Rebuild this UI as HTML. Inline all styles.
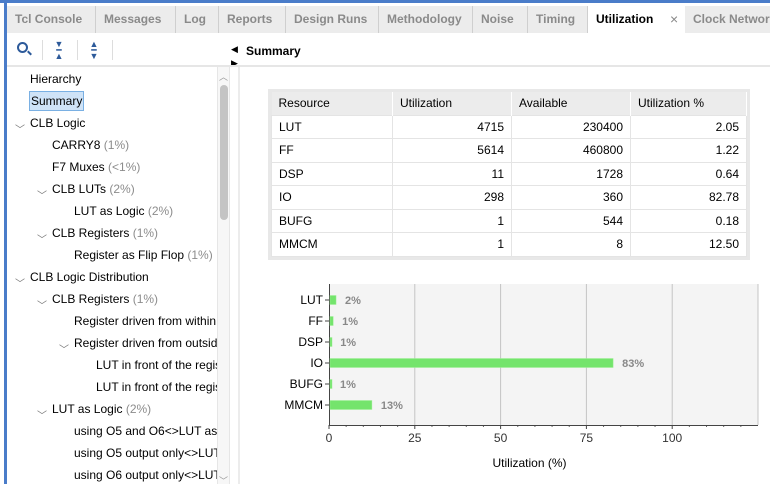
<!DOCTYPE html>
<html><head><meta charset="utf-8">
<style>
*{margin:0;padding:0;box-sizing:border-box}
body{width:770px;height:484px;overflow:hidden;background:#fff;font-family:"Liberation Sans",sans-serif;font-size:12px;color:#000;position:relative}
.abs{position:absolute}
.tab{position:absolute;top:6px;height:27px;line-height:27px;font-weight:bold;color:#8a8a8a;padding-left:8px;border-right:1px solid #cfcfcf;white-space:nowrap}
.tr{position:absolute;height:22px;line-height:22px;white-space:nowrap}
.g{color:#8c8c8c}
.arr{position:absolute;color:#777;font-size:10px}
table{border-collapse:collapse}
td{border:1px solid #e4e4e4;height:23.5px;padding:0 7px;background:#fff}
th{font-weight:normal;text-align:left;background:#ececec;height:23px;padding:0 7px;border-right:1px solid #fff}
td.n{text-align:right}
</style></head><body>
<div class="abs" style="left:0;top:0;width:770px;height:6px;background:#fff;border-top:3px solid #4a7cc9"></div>
<div class="abs" style="left:4px;top:3px;width:3px;height:481px;background:#4a7cc9"></div>
<div class="abs" style="left:7px;top:6px;width:763px;height:27px;background:#ececec"></div>
<div class="tab" style="left:7px;width:89px">Tcl Console</div>
<div class="tab" style="left:96px;width:80px">Messages</div>
<div class="tab" style="left:176px;width:43px">Log</div>
<div class="tab" style="left:219px;width:67px">Reports</div>
<div class="tab" style="left:286px;width:93px">Design Runs</div>
<div class="tab" style="left:379px;width:94px">Methodology</div>
<div class="tab" style="left:473px;width:55px">Noise</div>
<div class="tab" style="left:528px;width:60px">Timing</div>
<div class="tab" style="left:588px;width:97px;background:#fff;color:#000;border:none">Utilization<span style="position:absolute;left:82px;color:#888;font-weight:normal;font-size:14px">×</span></div>
<div class="tab" style="left:685px;width:90px;border:none">Clock Networks</div>

<div class="abs" style="left:17px;top:42px;width:11px;height:11px;border:2px solid #2d5a9a;border-radius:50%"></div>
<div class="abs" style="left:27px;top:52px;width:5px;height:2px;background:#2d5a9a;transform:rotate(45deg)"></div>
<div class="abs" style="left:42px;top:40px;width:1px;height:20px;background:#ddd"></div>
<div class="abs" style="left:53px;top:41px;color:#2d5a9a;font-size:9px;line-height:6px;text-align:center;width:12px">▼<br>━<br>▲</div>
<div class="abs" style="left:77px;top:40px;width:1px;height:20px;background:#ddd"></div>
<div class="abs" style="left:88px;top:41px;color:#2d5a9a;font-size:9px;line-height:6px;text-align:center;width:12px">▲<br>━<br>▼</div>
<div class="abs" style="left:112px;top:40px;width:1px;height:20px;background:#ddd"></div>
<div class="abs" style="left:231px;top:42px;font-size:9px;line-height:14px">◀<br>▶</div>
<div class="abs" style="left:246px;top:44px;font-weight:bold">Summary</div>
<div class="abs" style="left:7px;top:65px;width:763px;height:2px;background:#e6e6e6"></div>
<div class="abs" style="left:238px;top:67px;width:2px;height:417px;background:#ececec"></div>

<div class="abs" style="left:7px;top:67px;width:210px;height:417px;overflow:hidden">
<div class="tr" style="left:23px;top:1px">Hierarchy</div>
<div class="tr" style="left:22px;top:24px;height:20px;line-height:18px;padding:0 1px;background:#cfe3f7;border:1px solid #7ab0e3">Summary</div>
<div class="arr" style="left:8px;top:54px">﹀</div><div class="tr" style="left:23px;top:45px">CLB Logic</div>
<div class="tr" style="left:45px;top:67px">CARRY8 <span class="g">(1%)</span></div>
<div class="tr" style="left:45px;top:89px">F7 Muxes <span class="g">(&lt;1%)</span></div>
<div class="arr" style="left:30px;top:120px">﹀</div><div class="tr" style="left:45px;top:111px">CLB LUTs <span class="g">(2%)</span></div>
<div class="tr" style="left:67px;top:133px">LUT as Logic <span class="g">(2%)</span></div>
<div class="arr" style="left:30px;top:164px">﹀</div><div class="tr" style="left:45px;top:155px">CLB Registers <span class="g">(1%)</span></div>
<div class="tr" style="left:67px;top:177px">Register as Flip Flop <span class="g">(1%)</span></div>
<div class="arr" style="left:8px;top:208px">﹀</div><div class="tr" style="left:23px;top:199px">CLB Logic Distribution</div>
<div class="arr" style="left:30px;top:230px">﹀</div><div class="tr" style="left:45px;top:221px">CLB Registers <span class="g">(1%)</span></div>
<div class="tr" style="left:67px;top:243px">Register driven from within</div>
<div class="arr" style="left:52px;top:274px">﹀</div><div class="tr" style="left:67px;top:265px">Register driven from outside</div>
<div class="tr" style="left:89px;top:287px">LUT in front of the register</div>
<div class="tr" style="left:89px;top:309px">LUT in front of the register</div>
<div class="arr" style="left:30px;top:340px">﹀</div><div class="tr" style="left:45px;top:331px">LUT as Logic <span class="g">(2%)</span></div>
<div class="tr" style="left:67px;top:353px">using O5 and O6&lt;&gt;LUT as</div>
<div class="tr" style="left:67px;top:375px">using O5 output only&lt;&gt;LUT</div>
<div class="tr" style="left:67px;top:397px">using O6 output only&lt;&gt;LUT</div>
</div>
<div class="abs" style="left:217px;top:67px;width:13px;height:417px;background:#f7f7f7;border-left:1px solid #e6e6e6;border-right:1px solid #e6e6e6"></div>
<div class="abs" style="left:219px;top:70px;color:#999;font-size:9px">︿</div>
<div class="abs" style="left:220px;top:85px;width:8px;height:135px;background:#c4c4c4;border-radius:4px"></div>
<div class="abs" style="left:219px;top:474px;color:#999;font-size:9px">﹀</div>

<div class="abs" style="left:268px;top:89px;width:482px;height:171px;background:#e8e8e8;padding:3px">
<table style="width:476px">
<tr><th style="width:121px">Resource</th><th style="width:119px">Utilization</th><th style="width:119px">Available</th><th>Utilization %</th></tr>
<tr><td>LUT</td><td class="n">4715</td><td class="n">230400</td><td class="n">2.05</td></tr>
<tr><td>FF</td><td class="n">5614</td><td class="n">460800</td><td class="n">1.22</td></tr>
<tr><td>DSP</td><td class="n">11</td><td class="n">1728</td><td class="n">0.64</td></tr>
<tr><td>IO</td><td class="n">298</td><td class="n">360</td><td class="n">82.78</td></tr>
<tr><td>BUFG</td><td class="n">1</td><td class="n">544</td><td class="n">0.18</td></tr>
<tr><td>MMCM</td><td class="n">1</td><td class="n">8</td><td class="n">12.50</td></tr>
</table></div>

<svg class="abs" style="left:0;top:0" width="770" height="484" id="chart"></svg>
<script>
const categories=["LUT","FF","DSP","IO","BUFG","MMCM"];
const values=[2.05,1.22,0.64,82.78,0.18,12.5];
const labels=["2%","1%","1%","83%","1%","13%"];
const xTicks=[0,25,50,75,100];
const xMax=125;
const svg=document.getElementById('chart');
const NS='http://www.w3.org/2000/svg';
const L=329,R=758,T=284,B=425;
const x=v=>L+(v/xMax)*(R-L);
const y=i=>300+i*21;
function el(t,a,txt){const e=document.createElementNS(NS,t);for(const k in a)e.setAttribute(k,a[k]);if(txt!=null)e.textContent=txt;svg.appendChild(e);return e;}
let e=el('rect',{x:L,y:T,width:R-L,height:B-T,fill:'#f4f4f4'});


xTicks.forEach(t=>{
 if(t>0){let g=el('line',{x1:x(t),x2:x(t),y1:T,y2:B,stroke:'#c4c4c4'});
 
 }
 let tl=el('line',{x1:x(t),x2:x(t),y1:B,y2:B+4,stroke:'#444'});
 
 
 let lb=el('text',{x:x(t),y:B+17,'text-anchor':'middle','font-size':12,fill:'#333'},t);
 
 
});
for(let v=5;v<xMax;v+=5){if(v%25){let m=el('line',{x1:x(v),x2:x(v),y1:B,y2:B+2,stroke:'#666'});
 
 }}
let gr=el('line',{x1:R,x2:R,y1:T,y2:B,stroke:'#c4c4c4'});


let ax=el('line',{x1:L,x2:R,y1:B+0.5,y2:B+0.5,stroke:'#444'});


let ay=el('line',{x1:L+0.5,x2:L+0.5,y1:T,y2:B,stroke:'#444'});


categories.forEach((c,i)=>{
 let b=el('rect',{x:L+1,y:y(i)-4.5,width:Math.max(x(values[i])-L-1,2),height:9,fill:'#74e46c',stroke:'#9ef096','stroke-width':0.5});
 
 
 let tk=el('line',{x1:L-4,x2:L,y1:y(i),y2:y(i),stroke:'#444'});
 
 
 let cl=el('text',{x:L-6,y:y(i)+4,'text-anchor':'end','font-size':12,fill:'#000'},c);
 
 
 let vl=el('text',{x:Math.max(x(values[i]),L+2)+9,y:y(i)+4,'font-size':11,'font-weight':'bold',fill:'#888'},labels[i]);
 
 
});
let xt=el('text',{x:(L+R)/2-14,y:467,'text-anchor':'middle','font-size':12,fill:'#000'},'Utilization (%)');


</script>
</body></html>
